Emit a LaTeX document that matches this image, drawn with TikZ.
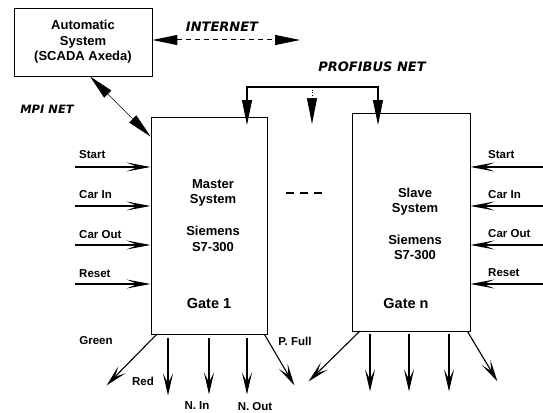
\documentclass[tikz,border=0pt]{standalone}
\usepackage{fontspec}
\setmainfont{Liberation Sans}
\newfontfamily\netfont{DejaVu Sans}
\usepackage{tikz}
\usetikzlibrary{arrows.meta}

\begin{document}
\begin{tikzpicture}[x=1pt,y=-1pt,
  unit/.style={draw,line width=0.9pt,inner sep=0pt},
  txt/.style={font=\fontsize{13}{15.5}\selectfont\bfseries,align=center,inner sep=0pt},
  gate/.style={font=\fontsize{14.5}{16}\selectfont\bfseries,inner sep=0pt},
  lbl/.style={font=\fontsize{11.5}{13}\selectfont\bfseries,inner sep=0pt},
  net/.style={font=\netfont\fontsize{13}{15}\selectfont\bfseries\itshape,inner sep=0pt},
  io/.style={line width=1.3pt,-{Stealth[length=24pt,width=9pt,inset=11pt]}},
  outarrow/.style={line width=1.1pt,-{Stealth[length=22pt,width=10pt,inset=10pt]}},
  big/.style={{Triangle[length=25pt,width=10pt]}-{Triangle[length=25pt,width=10pt]}}]
  \useasboundingbox (0,0) rectangle (543,412);

  % the three systems
  \node[unit,txt,minimum width=138pt,minimum height=68pt] (auto) at (83,42)
    {Automatic\\System\\(SCADA Axeda)};
  \node[unit,minimum width=116pt,minimum height=217pt] (master) at (209,225.5) {};
  \node[unit,minimum width=118pt,minimum height=218pt] (slave) at (411,222) {};

  \node[txt] (mname) at (213,193) {Master\\System};
  \node[txt] (mplc) at (213,239) {Siemens\\S7-300};
  \node[gate] (mgate) at (209,304) {Gate 1};
  \node[txt] (sname) at (415,201.5) {Slave\\System};
  \node[txt] (splc) at (415,247.5) {Siemens\\S7-300};
  \node[gate] (sgate) at (406,304) {Gate n};

  % networks
  \node[net] (inet) at (222,27) {INTERNET};
  \coordinate (inetR) at (300,40);
  \draw[big,line width=1pt,dash pattern=on 5pt off 4pt] (auto.east |- inetR) -- (inetR);

  \node[net,font=\netfont\fontsize{11.5}{13}\selectfont\bfseries\itshape] (mpi) at (47,109) {MPI NET};
  \draw[big,line width=0.5pt] ([xshift=7pt]auto.south) -- ([yshift=-20pt]master.north west);

  \node[net] (pnet) at (372,67) {PROFIBUS NET};
  \coordinate (busL) at (247,87);
  \coordinate (busR) at (378,87);
  \coordinate (tap) at (312,87);
  \draw[big,line width=1.2pt] (busL |- 0,125) -- (busL) -- (busR) -- (busR |- 0,125);
  \draw[dotted,line width=0.7pt,-{Triangle[length=26pt,width=10pt]}] (tap) -- (tap |- 0,124);

  \draw[line width=1.5pt,dash pattern=on 8pt off 6pt] (286,193) -- (322,193);

  % inputs of the master
  \coordinate (mStart) at (75,167);
  \coordinate (mCarIn) at (75,206);
  \coordinate (mCarOut) at (75,245);
  \coordinate (mReset) at (75,284);
  \draw[io] (mStart) -- (mStart -| master.west);
  \draw[io] (mCarIn) -- (mCarIn -| master.west);
  \draw[io] (mCarOut) -- (mCarOut -| master.west);
  \draw[io] (mReset) -- (mReset -| master.west);
  \node[lbl,anchor=west] (lmStart) at (79,155) {Start};
  \node[lbl,anchor=west] (lmCarIn) at (79,195) {Car In};
  \node[lbl,anchor=west] (lmCarOut) at (79,235) {Car Out};
  \node[lbl,anchor=west] (lmReset) at (79,274) {Reset};

  % inputs of the slave
  \coordinate (sStart) at (543,167);
  \coordinate (sCarIn) at (543,206);
  \coordinate (sCarOut) at (543,245);
  \coordinate (sReset) at (543,284);
  \draw[io] (sStart) -- (sStart -| slave.east);
  \draw[io] (sCarIn) -- (sCarIn -| slave.east);
  \draw[io] (sCarOut) -- (sCarOut -| slave.east);
  \draw[io] (sReset) -- (sReset -| slave.east);
  \node[lbl,anchor=west] (lsStart) at (488,155) {Start};
  \node[lbl,anchor=west] (lsCarIn) at (488,195) {Car In};
  \node[lbl,anchor=west] (lsCarOut) at (488,234) {Car Out};
  \node[lbl,anchor=west] (lsReset) at (488,273) {Reset};

  % outputs of the master
  \draw[outarrow] ([xshift=6pt]master.south west) -- ++(-50,51);
  \draw[outarrow] ([xshift=-41pt,yshift=-4pt]master.south) -- ++(0,57);
  \draw[outarrow] ([yshift=-4pt]master.south) -- ++(0,56);
  \draw[outarrow] ([xshift=38pt,yshift=-4pt]master.south) -- ++(0,56);
  \draw[outarrow] ([xshift=-3pt]master.south east) -- ++(30,51);
  \node[lbl] (lGreen) at (96,341) {Green};
  \node[lbl] (lRed) at (143,381) {Red};
  \node[lbl] (lNIn) at (197,406) {N. In};
  \node[lbl] (lNOut) at (255,407) {N. Out};
  \node[lbl] (lPFull) at (295,341) {P. Full};

  % outputs of the slave
  \draw[outarrow] ([xshift=8pt]slave.south west) -- ++(-51,50);
  \draw[outarrow] ([xshift=-41pt,yshift=-3pt]slave.south) -- ++(0,57);
  \draw[outarrow] ([xshift=-2pt,yshift=-3pt]slave.south) -- ++(0,57);
  \draw[outarrow] ([xshift=38pt,yshift=-3pt]slave.south) -- ++(0,57);
  \draw[outarrow] ([xshift=-3pt]slave.south east) -- ++(30,50);
\end{tikzpicture}
\end{document}
